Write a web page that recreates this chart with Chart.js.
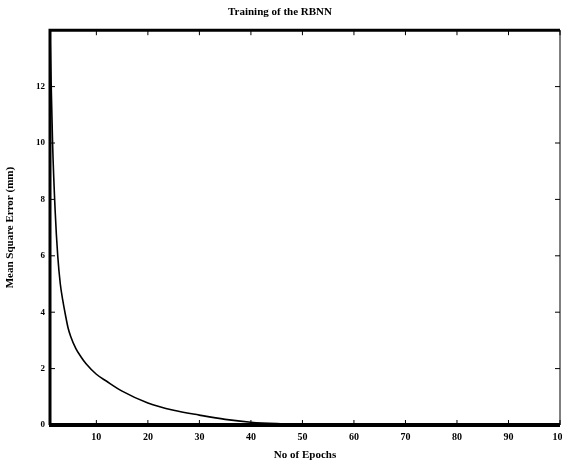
<!DOCTYPE html>
<html>
<head>
<meta charset="utf-8">
<script src="https://cdn.jsdelivr.net/npm/chart.js@4.4.0/dist/chart.umd.min.js"></script>
<style>
  html, body { margin: 0; padding: 0; background: #fff; }
  #wrap { width: 562px; height: 466px; }
</style>
</head>
<body>
<div id="wrap"><canvas id="chart" width="562" height="466"></canvas></div>
<script>
// --- DATOS ---
const epochs = [1, 1.5, 2, 2.5, 3, 3.5, 4, 4.5, 5, 6, 7, 8, 10, 12, 15, 20, 25, 30, 35, 40, 45, 50, 60, 70, 80, 90, 100];
const mseValues = [13.9, 10.0, 7.6, 6.0, 5.0, 4.4, 3.9, 3.45, 3.15, 2.72, 2.42, 2.17, 1.8, 1.55, 1.2, 0.78, 0.52, 0.35, 0.2, 0.1, 0.05, 0.03, 0.01, 0.0, 0.0, 0.0, 0.0];
const xTickValues = [10, 20, 30, 40, 50, 60, 70, 80, 90, 100];
const yTickValues = [0, 2, 4, 6, 8, 10, 12];

const serif = 'Liberation Serif';

// Marco estilo MATLAB con marcas hacia dentro
const framePlugin = {
    id: 'frame',
    afterDraw(chart) {
        const { ctx, chartArea: a, scales } = chart;
        const tick = 5;
        ctx.save();
        ctx.strokeStyle = '#000';
        ctx.lineWidth = 1;
        ctx.beginPath();
        xTickValues.forEach(v => {
            const x = scales.x.getPixelForValue(v);
            ctx.moveTo(x, a.bottom); ctx.lineTo(x, a.bottom - tick);
            ctx.moveTo(x, a.top); ctx.lineTo(x, a.top + tick);
        });
        yTickValues.forEach(v => {
            const y = scales.y.getPixelForValue(v);
            ctx.moveTo(a.left, y); ctx.lineTo(a.left + tick, y);
            ctx.moveTo(a.right, y); ctx.lineTo(a.right - tick, y);
        });
        ctx.stroke();

        // bordes
        ctx.lineWidth = 1;
        ctx.beginPath();
        ctx.moveTo(a.right, a.top); ctx.lineTo(a.right, a.bottom);
        ctx.stroke();
        ctx.lineWidth = 3;
        ctx.beginPath();
        ctx.moveTo(a.left, a.bottom); ctx.lineTo(a.left, a.top);
        ctx.lineTo(a.right, a.top);
        ctx.stroke();
        ctx.lineWidth = 4;
        ctx.beginPath();
        ctx.moveTo(a.left - 1, a.bottom); ctx.lineTo(a.right, a.bottom);
        ctx.stroke();
        ctx.restore();
    }
};

new Chart(document.getElementById('chart'), {
    type: 'line',
    data: {
        datasets: [{
            data: epochs.map((e, i) => ({ x: e, y: mseValues[i] })),
            borderColor: '#000',
            borderWidth: 1.6,
            pointRadius: 0,
            cubicInterpolationMode: 'monotone',
            fill: false
        }]
    },
    options: {
        responsive: false,
        animation: false,
        layout: { padding: { left: 0, right: 2, top: 0, bottom: 0 } },
        plugins: {
            legend: { display: false },
            tooltip: { enabled: false },
            title: {
                display: true,
                text: 'Training of the RBNN',
                color: '#000',
                font: { family: serif, size: 11, weight: 'bold' },
                padding: { top: 6, bottom: 11 }
            }
        },
        scales: {
            x: {
                type: 'linear',
                min: 1,
                max: 100,
                afterBuildTicks: s => { s.ticks = xTickValues.map(v => ({ value: v })); },
                afterFit: s => { s.height = 41; s.paddingRight = 0; s.paddingLeft = 0; },
                grid: { display: false, drawTicks: false },
                border: { display: false },
                ticks: {
                    color: '#000',
                    padding: 6,
                    maxRotation: 0,
                    font: { family: serif, size: 10, weight: 'bold' }
                },
                title: {
                    display: true,
                    text: 'No of Epochs',
                    color: '#000',
                    font: { family: serif, size: 11, weight: 'bold' },
                    padding: { top: 2, bottom: 4 }
                }
            },
            y: {
                min: 0,
                max: 14,
                afterBuildTicks: s => { s.ticks = yTickValues.map(v => ({ value: v })); },
                afterFit: s => { s.width = 50; },
                grid: { display: false, drawTicks: false },
                border: { display: false },
                ticks: {
                    color: '#000',
                    padding: 5,
                    font: { family: serif, size: 9, weight: 'bold' }
                },
                title: {
                    display: true,
                    text: 'Mean Square Error (mm)',
                    color: '#000',
                    font: { family: serif, size: 11, weight: 'bold' },
                    padding: { top: 4, bottom: 4 }
                }
            }
        }
    },
    plugins: [framePlugin]
});
</script>
</body>
</html>
